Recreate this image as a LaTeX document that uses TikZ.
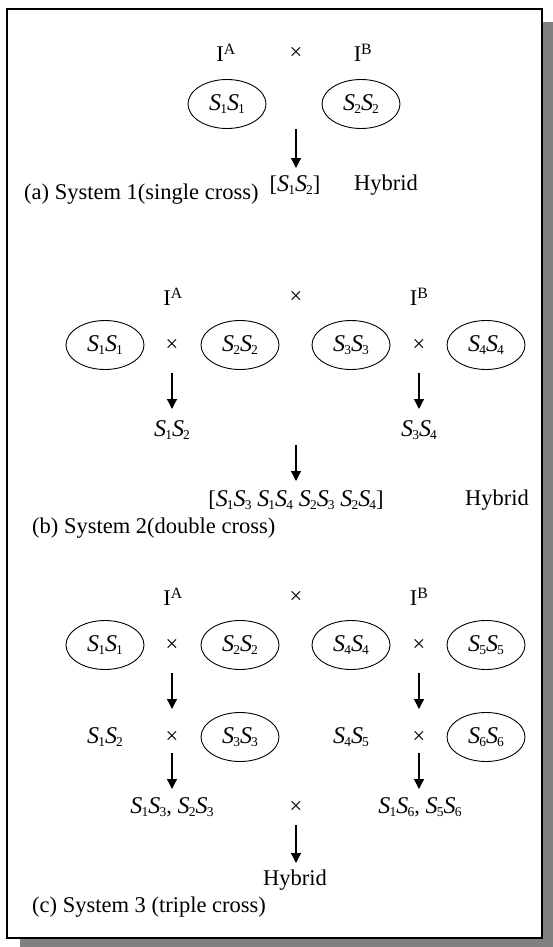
\documentclass[tikz,border=0pt]{standalone}
\usepackage{fontspec}
\setmainfont{Liberation Serif}
\usetikzlibrary{shapes.geometric,arrows.meta}
\definecolor{shadowgray}{RGB}{128,128,128}
\newcommand\sx[1]{{\fontsize{24}{26}\selectfont\textit{S}}\kern-0.8pt\raisebox{-3.4pt}{\fontsize{13.5}{14}\selectfont #1}}
\newcommand\ia{I\textsuperscript{A}}
\newcommand\ib{I\textsuperscript{B}}
\begin{document}
\begin{tikzpicture}[x=1pt,y=-1pt,
  every node/.style={inner sep=0pt,font=\fontsize{22.5}{26}\selectfont},
  pop/.style={ellipse,draw,line width=0.9pt,minimum width=78pt,minimum height=49pt},
  arr/.style={line width=1.2pt,-{Triangle[length=10pt,width=10pt]}},
  captext/.style={anchor=west}]
\useasboundingbox (0,0) rectangle (553,947);
% frame with shadow
\fill[shadowgray] (20,22) rectangle (553,947);
\filldraw[fill=white,draw=black,line width=2.6pt] (7,9) rectangle (542,938);

% ---------- (a) ----------
\node (aIA) at (226,53) {\ia};
\node (aX)  at (296,53) {×};
\node (aIB) at (363,53) {\ib};
\node[pop] (aP1) at (227,104) {\sx1\sx1};
\node[pop] (aP2) at (361,104) {\sx2\sx2};
\coordinate (aS) at (296,129);
\coordinate (aE) at (296,168);
\draw[arr] (aS) -- (aE);
\node (aH) at (295,185) {[\sx1\sx2]};
\node (aHy) at (386,185) {Hybrid};
\node[captext] (aCap) at (24,194) {(a) System 1(single cross)};

% ---------- (b) ----------
\node (bIA) at (173,297) {\ia};
\node (bX)  at (296,297) {×};
\node (bIB) at (419,297) {\ib};
\node[pop] (bP1) at (105,345) {\sx1\sx1};
\node (bX1) at (172,345) {×};
\node[pop] (bP2) at (240,345) {\sx2\sx2};
\node[pop] (bP3) at (351,345) {\sx3\sx3};
\node (bX2) at (419,345) {×};
\node[pop] (bP4) at (486,345) {\sx4\sx4};
\coordinate (bS1) at (172,373);
\coordinate (bE1) at (172,409);
\coordinate (bS2) at (419,373);
\coordinate (bE2) at (419,409);
\draw[arr] (bS1) -- (bE1);
\draw[arr] (bS2) -- (bE2);
\node (bF1) at (172,430) {\sx1\sx2};
\node (bF2) at (419,430) {\sx3\sx4};
\coordinate (bS3) at (296,445);
\coordinate (bE3) at (296,481);
\draw[arr] (bS3) -- (bE3);
\node (bH) at (296,500) {[\sx1\sx3\ \sx1\sx4\ \sx2\sx3\ \sx2\sx4]};
\node (bHy) at (497,500) {Hybrid};
\node[captext] (bCap) at (32,528) {(b) System 2(double cross)};

% ---------- (c) ----------
\node (cIA) at (173,597) {\ia};
\node (cX)  at (296,597) {×};
\node (cIB) at (419,597) {\ib};
\node[pop] (cP1) at (105,645) {\sx1\sx1};
\node (cX1) at (172,645) {×};
\node[pop] (cP2) at (240,645) {\sx2\sx2};
\node[pop] (cP4) at (351,645) {\sx4\sx4};
\node (cX2) at (419,645) {×};
\node[pop] (cP5) at (486,645) {\sx5\sx5};
\coordinate (cS1) at (172,673);
\coordinate (cE1) at (172,709);
\coordinate (cS2) at (419,673);
\coordinate (cE2) at (419,709);
\draw[arr] (cS1) -- (cE1);
\draw[arr] (cS2) -- (cE2);
\node (cF1) at (105,737) {\sx1\sx2};
\node (cX3) at (172,737) {×};
\node[pop] (cP3) at (240,737) {\sx3\sx3};
\node (cF2) at (351,737) {\sx4\sx5};
\node (cX4) at (419,737) {×};
\node[pop] (cP6) at (486,737) {\sx6\sx6};
\coordinate (cS3) at (172,753);
\coordinate (cE3) at (172,789);
\coordinate (cS4) at (419,753);
\coordinate (cE4) at (419,789);
\draw[arr] (cS3) -- (cE3);
\draw[arr] (cS4) -- (cE4);
\node (cG1) at (172,807) {\sx1\sx3, \sx2\sx3};
\node (cX5) at (296,807) {×};
\node (cG2) at (420,807) {\sx1\sx6, \sx5\sx6};
\coordinate (cS5) at (296,825);
\coordinate (cE5) at (296,863);
\draw[arr] (cS5) -- (cE5);
\node (cHy) at (295,880) {Hybrid};
\node[captext] (cCap) at (32,907) {(c) System 3 (triple cross)};
\end{tikzpicture}
\end{document}
